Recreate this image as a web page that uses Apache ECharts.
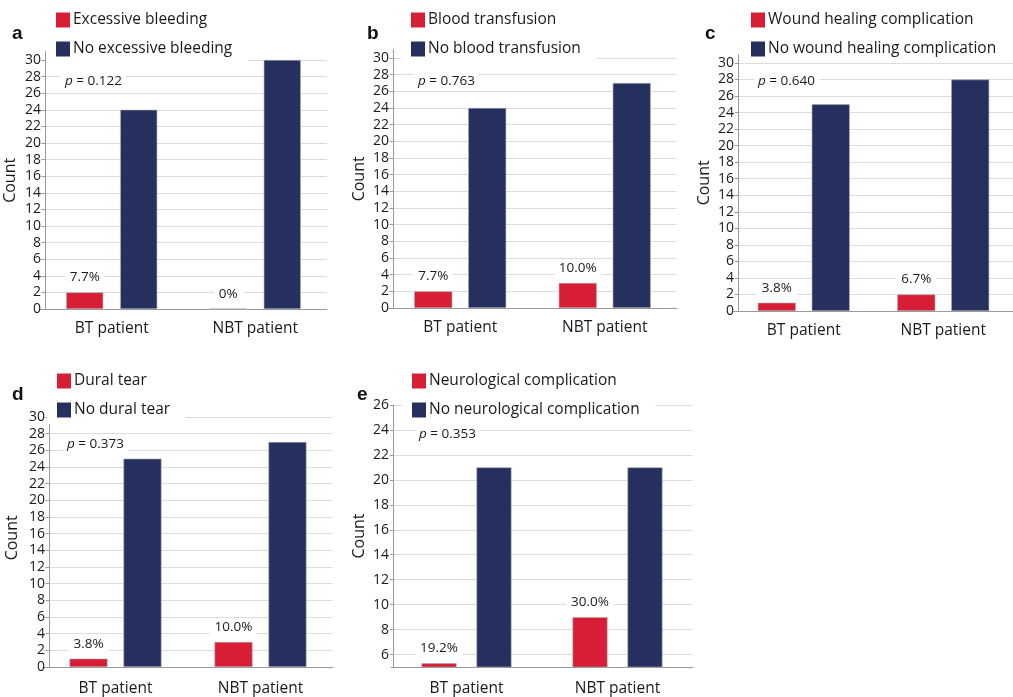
<!DOCTYPE html>
<html lang="en">
<head>
	<meta charset="UTF-8">
	<title>Complications</title>
	<style>
	body, div {
		margin: 0;
		padding: 0;
	}
	#echart {
		width: 1013px;
		height: 697px;
		background: #fff;
	}
	</style>
</head>
<body>
	<div id="echart"></div>

	<script src="https://cdn.jsdelivr.net/npm/echarts@6/dist/echarts.min.js"></script>

	<script>
	// 数据
	// ---------------------------------------------------------------
	var categories = ['BT patient', 'NBT patient'];
	var panelLetters = ['a', 'b', 'c', 'd', 'e'];
	var yesNames = ['Excessive bleeding', 'Blood transfusion', 'Wound healing complication', 'Dural tear', 'Neurological complication'];
	var noNames = ['No excessive bleeding', 'No blood transfusion', 'No wound healing complication', 'No dural tear', 'No neurological complication'];
	var yesCounts = [[2, 0], [2, 3], [1, 2], [1, 3], [5.3, 9]];
	var noCounts = [[24, 30], [24, 27], [25, 28], [25, 27], [21, 21]];
	var pctLabels = [['7.7%', '0%'], ['7.7%', '10.0%'], ['3.8%', '6.7%'], ['3.8%', '10.0%'], ['19.2%', '30.0%']];
	var pValues = ['0.122', '0.763', '0.640', '0.373', '0.353'];
	var ticksAD = [0, 2, 4, 6, 8, 10, 12, 14, 16, 18, 20, 22, 24, 26, 28, 30];
	var ticksE = [6, 8, 10, 12, 14, 16, 18, 20, 22, 24, 26];
	var yRange = [[0, 31], [0, 31], [0, 31], [0, 31], [5, 26]];

	// 布局 (每个小图的位置)
	var layout = [
		{ left: 40,  top: 51.7,  width: 287, height: 257.3, axisOff: -5, barW: 37, gap: '46%', letter: [12, 24],  legend: [46, 5],   p: [61, 72],   name: 27, xMargin: 12 },
		{ left: 388, top: 49.7,  width: 289, height: 258.3, axisOff: -5, barW: 38, gap: '42%', letter: [367, 24], legend: [401, 5],  p: [414, 72],  name: 26, xMargin: 12 },
		{ left: 734, top: 54.7,  width: 290, height: 256.3, axisOff: -4, barW: 38, gap: '42%', letter: [705, 24], legend: [741, 5],  p: [754, 72],  name: 26, xMargin: 12 },
		{ left: 43,  top: 408.7, width: 290, height: 258.3, axisOff: -6, barW: 38, gap: '42%', letter: [12, 385], legend: [47, 366], p: [63, 435],  name: 29, xMargin: 14 },
		{ left: 391, top: 405,   width: 302, height: 262,   axisOff: -2, barW: 35, gap: '57%', letter: [357, 385], legend: [402, 366], p: [415, 425], name: 26, xMargin: 14 }
	];

	var RED = '#d81e35';
	var BLUE = '#25305f';
	var FONT = 'Open Sans';

	var myEchart = echarts.init(document.getElementById('echart'));

	var grids = [], xAxes = [], yAxes = [], series = [], legends = [], titles = [];

	for (var i = 0; i < 5; i++) {
		var L = layout[i];
		var ticks = i === 4 ? ticksE : ticksAD;

		grids.push({ left: L.left, top: L.top, width: L.width, height: L.height });

		xAxes.push({
			type: 'category',
			gridIndex: i,
			data: categories,
			axisLine: { lineStyle: { color: '#9a9a9a' } },
			axisTick: { show: false },
			axisLabel: { color: '#1a1a1a', fontSize: 15.5, fontFamily: FONT, margin: L.xMargin }
		});

		yAxes.push({
			type: 'value',
			gridIndex: i,
			min: yRange[i][0],
			max: yRange[i][1],
			offset: L.axisOff,
			name: 'Count',
			nameLocation: 'middle',
			nameGap: L.name,
			nameTextStyle: { color: '#1a1a1a', fontSize: 16, fontFamily: FONT },
			axisLine: { show: true, lineStyle: { color: '#9a9a9a' } },
			axisTick: { show: true, length: 3, customValues: ticks, lineStyle: { color: '#9a9a9a' } },
			axisLabel: { color: '#1a1a1a', fontSize: 14, fontFamily: FONT, margin: 4, customValues: ticks },
			splitLine: { show: true, lineStyle: { color: '#dcdcdc' } }
		});

		(function (idx) {
			series.push({
				name: yesNames[idx],
				type: 'bar',
				xAxisIndex: idx,
				yAxisIndex: idx,
				data: yesCounts[idx],
				barWidth: layout[idx].barW,
				barGap: layout[idx].gap,
				itemStyle: { color: RED, borderColor: '#a9a9a9', borderWidth: 0.6 },
				label: {
					show: true,
					position: 'top',
					distance: 7,
					color: '#1a1a1a',
					fontSize: 13.5,
					fontFamily: FONT,
					backgroundColor: '#fff',
					padding: [1, 5],
					formatter: function (p) {
						return pctLabels[idx][p.dataIndex];
					}
				}
			});
			series.push({
				name: noNames[idx],
				type: 'bar',
				xAxisIndex: idx,
				yAxisIndex: idx,
				data: noCounts[idx],
				barWidth: layout[idx].barW,
				barGap: layout[idx].gap,
				itemStyle: { color: BLUE, borderColor: '#a9a9a9', borderWidth: 0.6 }
			});
		})(i);

		legends.push({
			data: [yesNames[i], noNames[i]],
			orient: 'vertical',
			left: L.legend[0],
			top: L.legend[1],
			icon: 'rect',
			itemWidth: 14,
			itemHeight: 15,
			itemGap: 13,
			itemStyle: { borderWidth: 0 },
			padding: [7, 16, 6, 10],
			backgroundColor: '#fff',
			selectedMode: false,
			textStyle: { color: '#1a1a1a', fontSize: 15.5, fontFamily: FONT, padding: [0, 0, 0, -2] }
		});

		// 小图字母
		titles.push({
			text: panelLetters[i],
			left: L.letter[0],
			top: L.letter[1],
			padding: 0,
			textStyle: { fontSize: 19, fontWeight: 'bold', color: '#111', fontFamily: 'Liberation Sans' }
		});

		// p 值
		titles.push({
			text: '{i|p} = ' + pValues[i],
			left: L.p[0],
			top: L.p[1],
			padding: [2, 4],
			backgroundColor: '#fff',
			textStyle: {
				fontSize: 13.5,
				fontWeight: 'normal',
				color: '#1a1a1a',
				fontFamily: FONT,
				rich: {
					i: { fontStyle: 'italic', fontSize: 13.5, fontFamily: FONT, color: '#1a1a1a' }
				}
			}
		});
	}

	option = {
		animation: false,
		backgroundColor: '#fff',
		title: titles,
		legend: legends,
		grid: grids,
		xAxis: xAxes,
		yAxis: yAxes,
		series: series
	};

	myEchart.setOption(option);
	</script>
</body>
</html>
